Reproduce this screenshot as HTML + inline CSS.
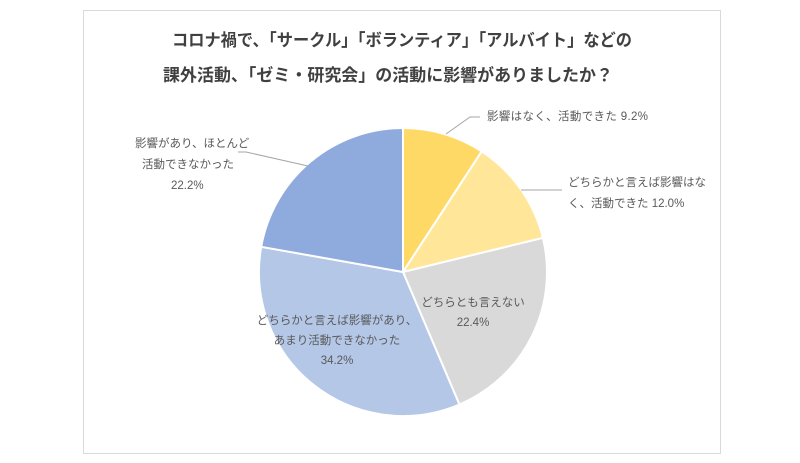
<!DOCTYPE html>
<html><head><meta charset="utf-8"><style>
html,body{margin:0;padding:0;background:#fff;}
svg{display:block;font-family:"Liberation Sans","Noto Sans CJK JP",sans-serif;}
</style></head><body>
<svg width="800" height="463" viewBox="0 0 800 463">
<rect x="83.5" y="10.5" width="637" height="443" fill="#fff" stroke="#d9d9d9"/>
<g font-weight="bold" font-size="17" fill="#404040">
<text x="172" y="46" textLength="460" lengthAdjust="spacingAndGlyphs">コロナ禍で、「サークル」「ボランティア」「アルバイト」などの</text>
<text x="163" y="81" textLength="450" lengthAdjust="spacingAndGlyphs">課外活動、「ゼミ・研究会」の活動に影響がありましたか？</text>
</g>
<g stroke="#fff" stroke-width="2">
<path d="M403,272 L403,128 A144,144 0 0 1 481.7,151.4 Z" fill="#FFD966"/>
<path d="M403,272 L481.7,151.4 A144,144 0 0 1 542.9,237.9 Z" fill="#FFE699"/>
<path d="M403,272 L542.9,237.9 A144,144 0 0 1 459.4,404.5 Z" fill="#D9D9D9"/>
<path d="M403,272 L459.4,404.5 A144,144 0 0 1 261.2,246.8 Z" fill="#B4C7E7"/>
<path d="M403,272 L261.2,246.8 A144,144 0 0 1 403,128 Z" fill="#8FAADC"/>
</g>
<g stroke="#a6a6a6" stroke-width="1" fill="none">
<polyline points="446,134 470,117 480,117"/>
<polyline points="521,190 562,190"/>
<polyline points="308,166 246,152 238,152"/>
</g>
<g font-size="11.5" fill="#595959">
<text x="487" y="120" textLength="161">影響はなく、活動できた 9.2%</text>
<text x="568" y="186">どちらかと言えば影響はな</text>
<text x="568" y="207">く、活動できた 12.0%</text>
<text x="135" y="147">影響があり、ほとんど</text>
<text x="142" y="168">活動できなかった</text>
<text x="171" y="189">22.2%</text>
<g text-anchor="middle">
<text x="473" y="306">どちらとも言えない</text>
<text x="473" y="326">22.4%</text>
<text x="337" y="324">どちらかと言えば影響があり、</text>
<text x="337" y="344">あまり活動できなかった</text>
<text x="337" y="364">34.2%</text>
</g>
</g>
</svg>
</body></html>
